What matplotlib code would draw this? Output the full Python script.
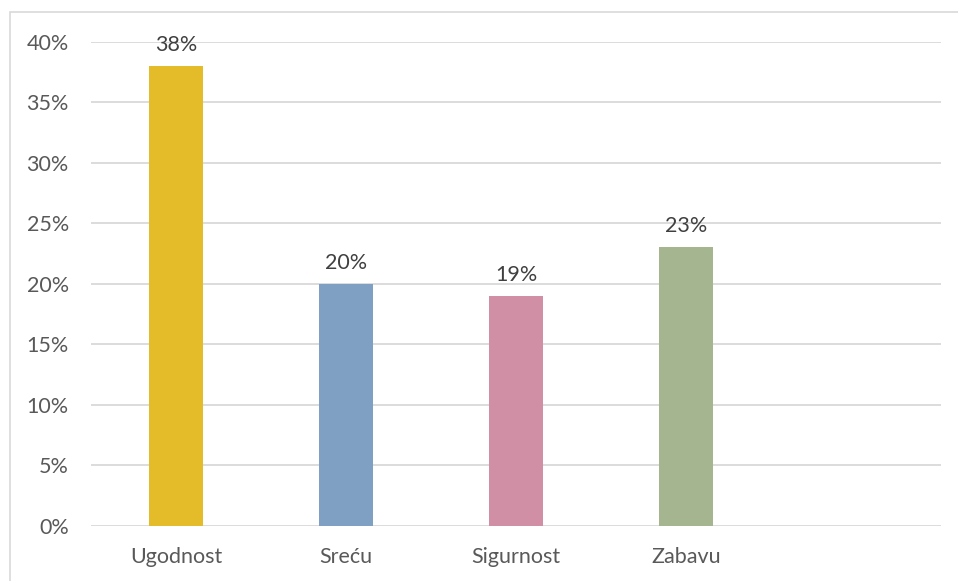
import matplotlib
matplotlib.use("Agg")
import matplotlib.pyplot as plt
from matplotlib.patches import Rectangle
from matplotlib.ticker import PercentFormatter

categories = ["Ugodnost", "Sreću", "Sigurnost", "Zabavu", ""]
values = [0.38, 0.20, 0.19, 0.23, None]
labels = ["38%", "20%", "19%", "23%", None]
colors = ["#E4BB28", "#7F9FC3", "#D08FA5", "#A5B590"]
yticks = [0, 0.05, 0.10, 0.15, 0.20, 0.25, 0.30, 0.35, 0.40]

plt.rcParams['font.family'] = ['Lato', 'DejaVu Sans']

W, H = 958, 581
fig = plt.figure(figsize=(W / 100, H / 100), dpi=100)
fig.patches.append(Rectangle((10 / W, -0.1), 1.1, (H - 12.5) / H + 0.1,
                             transform=fig.transFigure, fill=False,
                             edgecolor="#D9D9D9", linewidth=1.2))

ax = fig.add_axes([91 / W, 55 / H, 850 / W, (526 - 41.5) / H])
x = list(range(len(categories)))
for i, (v, c) in enumerate(zip(values, colors)):
    if v is None:
        continue
    ax.bar(i, v, width=0.32, color=c, zorder=3)
    ax.annotate(labels[i], (i, v), xytext=(0, 8), textcoords="offset points",
                ha="center", va="bottom", fontsize=15.5, color="#404040")

ax.set_xlim(-0.5, len(categories) - 0.5)
ax.set_ylim(0, 0.40)
ax.set_yticks(yticks)
ax.yaxis.set_major_formatter(PercentFormatter(1.0, decimals=0))
ax.set_xticks(x)
ax.set_xticklabels(categories)
ax.grid(axis="y", color="#D9D9D9", linewidth=1.3, zorder=0)
ax.set_axisbelow(True)
for s in ax.spines.values():
    s.set_visible(False)
ax.tick_params(axis="both", length=0, labelsize=15.5, labelcolor="#595959")
ax.tick_params(axis="y", pad=16)
ax.tick_params(axis="x", pad=15)

fig.savefig("out.png", dpi=100)
